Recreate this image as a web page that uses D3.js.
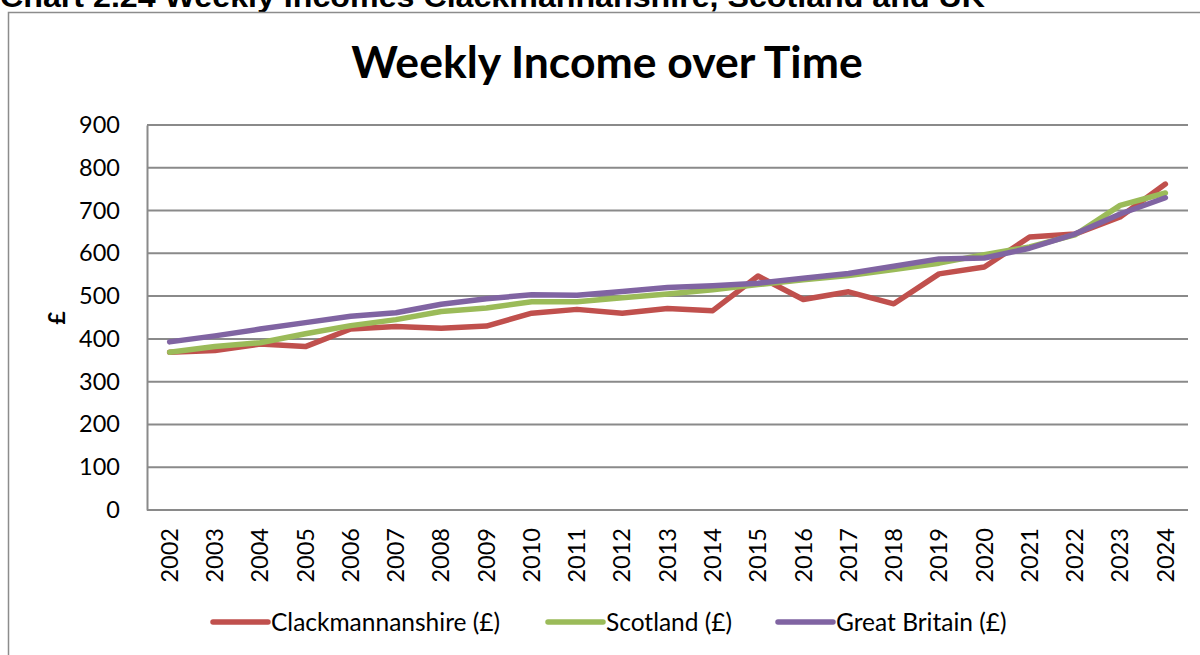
<!DOCTYPE html>
<html><head><meta charset="utf-8">
<script src="https://cdn.jsdelivr.net/npm/d3@7"></script>
<style>html,body{margin:0;padding:0;background:#fff;overflow:hidden}</style>
</head><body>
<svg id="chart" width="1200" height="655"></svg>
<script>
const years = ["2002","2003","2004","2005","2006","2007","2008","2009","2010","2011","2012","2013","2014","2015","2016","2017","2018","2019","2020","2021","2022","2023","2024"];
const clackmannanshire = [369,373,388,382,423,429,425,430,460,469,460,471,466,547,492,510,482,552,568,638,645,685,762];
const scotland = [369,382,391,412,431,445,464,472,487,487,496,505,515,527,538,548,562,577,597,615,643,712,741];
const greatBritain = [393,407,423,438,453,461,481,494,503,502,511,520,524,530,542,553,570,587,589,612,645,692,730];
const seriesNames = ["Clackmannanshire (£)","Scotland (£)","Great Britain (£)"];
const seriesColors = ["#C0504D","#9BBB59","#8064A2"];
const yTicks = [0,100,200,300,400,500,600,700,800,900];

(function(){
const series = [clackmannanshire, scotland, greatBritain];
const svg = d3.select("#chart");
const font = "Lato, 'Open Sans', sans-serif";

// Page heading (clipped at top, as in the source document)
svg.append("text").attr("x",0).attr("y",7)
  .attr("font-family","'Liberation Sans', Arial, sans-serif").attr("font-weight","bold")
  .attr("font-size",29).attr("fill","#000")
  .attr("textLength",985).attr("lengthAdjust","spacingAndGlyphs")
  .text("Chart 2.24 Weekly Incomes Clackmannanshire, Scotland and UK");

// chart frame
svg.append("rect").attr("x",8.5).attr("y",12.5).attr("width",1300).attr("height",800)
  .attr("fill","#fff").attr("stroke","#8c8c8c").attr("stroke-width",1.5);

const mLeft = 147, mRight = 1188, mTop = 125, mBottom = 510;
const x = d3.scaleBand().domain(years).range([mLeft,mRight]);
const y = d3.scaleLinear().domain([0,900]).range([mBottom,mTop]);

// title
svg.append("text").attr("x",607).attr("y",78).attr("text-anchor","middle")
  .attr("font-family",font).attr("font-weight","bold").attr("font-size",44.5)
  .text("Weekly Income over Time");

// gridlines
svg.append("g").selectAll("line").data(yTicks).join("line")
  .attr("x1",mLeft).attr("x2",mRight)
  .attr("y1",d=>y(d)).attr("y2",d=>y(d))
  .attr("stroke","#8a8a8a").attr("stroke-width",2);

// y axis
const yAxis = svg.append("g").attr("transform",`translate(${mLeft},0)`)
  .call(d3.axisLeft(y).tickValues(yTicks).tickSize(0).tickPadding(27));
yAxis.select(".domain").attr("stroke","#8a8a8a").attr("stroke-width",2);
yAxis.selectAll("text").attr("font-family",font).attr("font-size",23.5).attr("fill","#000");

// x axis
const xAxis = svg.append("g").attr("transform",`translate(0,${mBottom})`)
  .call(d3.axisBottom(x).tickSize(0).tickPadding(0));
xAxis.select(".domain").remove();
xAxis.selectAll("text")
  .attr("font-family",font).attr("font-size",23.5).attr("fill","#000")
  .attr("transform","rotate(-90)")
  .attr("text-anchor","end")
  .attr("x",-18).attr("y",0).attr("dy","0.35em");

// y axis title
svg.append("text").attr("transform","translate(65,318) rotate(-90)")
  .attr("text-anchor","middle").attr("font-family",font).attr("font-weight","bold")
  .attr("font-size",23).text("£");

// lines
const line = d3.line().x((d,i)=>x(years[i])+x.bandwidth()/2).y(d=>y(d));
svg.append("g").selectAll("path").data(series).join("path")
  .attr("d",line).attr("fill","none")
  .attr("stroke",(d,i)=>seriesColors[i]).attr("stroke-width",5.5)
  .attr("stroke-linejoin","round").attr("stroke-linecap","round");

// legend
const legendX = [213,548,778];
const lg = svg.append("g").selectAll("g").data(seriesNames).join("g")
  .attr("transform",(d,i)=>`translate(${legendX[i]},622)`);
lg.append("line").attr("x1",0).attr("x2",55).attr("y1",0).attr("y2",0)
  .attr("stroke",(d,i)=>seriesColors[i]).attr("stroke-width",5.5).attr("stroke-linecap","round");
lg.append("text").attr("x",58).attr("y",0).attr("dy","0.35em")
  .attr("font-family",font).attr("font-size",24.5).text(d=>d);
})();
</script>
</body></html>
